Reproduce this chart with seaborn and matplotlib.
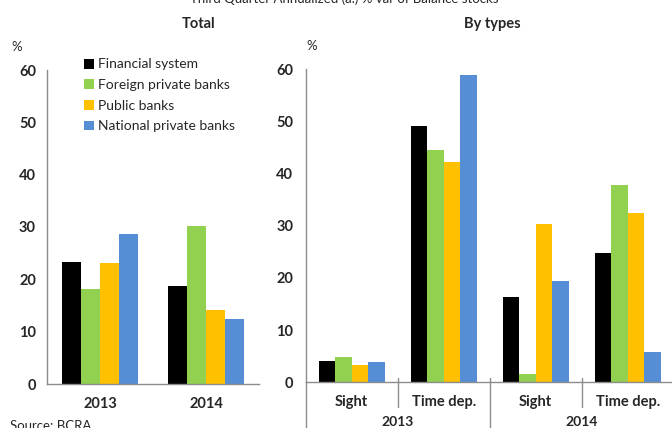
import matplotlib
matplotlib.use("Agg")
import matplotlib.pyplot as plt
import matplotlib.transforms as mtransforms
from matplotlib.patches import Patch
import seaborn as sns
import pandas as pd

# ---- data -------------------------------------------------------------
years = ["2013", "2014"]
groups = ["Financial system", "Foreign private banks", "Public banks",
          "National private banks"]
colors = ["#000000", "#92D050", "#FFC000", "#558ED5"]

# Total deposits, annualized % change (third quarter)
total_financial = [23.4, 18.7]
total_foreign = [18.2, 30.2]
total_public = [23.1, 14.1]
total_national = [28.7, 12.4]

# By deposit type
type_years = ["2013", "2013", "2014", "2014"]
type_names = ["Sight", "Time dep.", "Sight", "Time dep."]
types_financial = [4.0, 49.1, 16.3, 24.7]
types_foreign = [4.9, 44.5, 1.6, 37.8]
types_public = [3.4, 42.2, 30.3, 32.5]
types_national = [3.8, 59.0, 19.5, 5.9]

# ---- long-form tables ------------------------------------------------
total_series = [total_financial, total_foreign, total_public, total_national]
rows = []
for g, vals in zip(groups, total_series):
    for y, v in zip(years, vals):
        rows.append({"year": y, "group": g, "value": v})
df_total = pd.DataFrame(rows)

type_keys = [f"{y} {t}" for y, t in zip(type_years, type_names)]
type_series = [types_financial, types_foreign, types_public, types_national]
rows = []
for g, vals in zip(groups, type_series):
    for k, v in zip(type_keys, vals):
        rows.append({"cat": k, "group": g, "value": v})
df_types = pd.DataFrame(rows)

# ---- style ------------------------------------------------------------
sns.set_theme(style="white")
plt.rcParams["font.family"] = ["Lato", "DejaVu Sans"]
AX_GRAY = "#8c8c8c"

W, H = 672, 428
fig = plt.figure(figsize=(W / 100, H / 100), dpi=100)

ax1 = fig.add_axes([47 / W, 44 / H, 212 / W, 314 / H])
ax2 = fig.add_axes([305.7 / W, 45.7 / H, 368 / W, 313 / H])

palette = dict(zip(groups, colors))

sns.barplot(data=df_total, x="year", y="value", hue="group", order=years,
            hue_order=groups, palette=palette, width=0.72, gap=0,
            saturation=1, linewidth=0, legend=False, ax=ax1)
sns.barplot(data=df_types, x="cat", y="value", hue="group", order=type_keys,
            hue_order=groups, palette=palette, width=0.72, gap=0,
            saturation=1, linewidth=0, legend=False, ax=ax2)

for ax in (ax1, ax2):
    ax.set_ylim(0, 60)
    ax.set_yticks(range(0, 61, 10))
    ax.set_xlabel("")
    ax.set_ylabel("")
    for s in ("top", "right"):
        ax.spines[s].set_visible(False)
    for s in ("left", "bottom"):
        ax.spines[s].set_color(AX_GRAY)
        ax.spines[s].set_linewidth(1.0)
    ax.tick_params(axis="y", direction="in", length=4, width=1,
                   color=AX_GRAY, labelsize=10.5, pad=8)
    for lab in ax.get_yticklabels():
        lab.set_fontweight("bold")

# Left panel x-axis: year labels, small inward ticks at group boundaries
ax1.set_xlim(-0.5, 1.5)
ax1.set_xticks([0, 1])
ax1.set_xticklabels(years, fontsize=10.5, fontweight="bold")
ax1.tick_params(axis="x", length=0, pad=9)
ax1.set_xticks([0.5, 1.5], minor=True)
ax1.tick_params(axis="x", which="minor", direction="in", length=4,
                width=1, color=AX_GRAY)

# Right panel x-axis: deposit type, then year underneath
ax2.set_xlim(-0.5, 3.5)
ax2.set_xticks(range(4))
ax2.set_xticklabels(type_names, fontsize=10.5, fontweight="bold")
ax2.tick_params(axis="x", length=0, pad=9)
ax2.tick_params(axis="y", pad=9)
trans = mtransforms.blended_transform_factory(ax2.transData, ax2.transAxes)
px = 1 / 313
for xb, ybot in [(0.5, -25 * px), (2.5, -25 * px), (1.5, -47 * px)]:
    ax2.plot([xb, xb], [4.5 * px, ybot], color=AX_GRAY, lw=1,
             transform=trans, clip_on=False)
ax2.plot([-0.5, -0.5], [0, -47 * px], color=AX_GRAY, lw=1,
         transform=trans, clip_on=False)
for xc, yr in [(0.5, "2013"), (2.5, "2014")]:
    ax2.text(xc, -40 * px, yr, transform=trans, ha="center", va="center",
             fontsize=10, fontweight="bold")

# Legend
handles = [Patch(facecolor=c, edgecolor="none") for c in colors]
ax1.legend(handles, groups, loc="upper left",
           bbox_to_anchor=(84 / W, (H - 58.5) / H),
           bbox_transform=fig.transFigure, frameon=False, fontsize=10,
           handlelength=0.7, handleheight=0.7, handletextpad=0.3,
           labelspacing=0.62, borderpad=0, borderaxespad=0)

# Texts
fig.text(344 / W, (H - 3) / H,
         "Third Quarter Annualized (a.) % var of Balance stocks",
         ha="center", va="baseline", fontsize=9.5)
fig.text(199 / W, (H - 24) / H, "Total", ha="center", va="center",
         fontsize=10.5, fontweight="bold")
fig.text(492 / W, (H - 24) / H, "By types", ha="center", va="center",
         fontsize=10.5, fontweight="bold")
fig.text(17 / W, (H - 47) / H, "%", ha="center", va="center", fontsize=9.5)
fig.text(312 / W, (H - 46) / H, "%", ha="center", va="center", fontsize=9.5)
fig.text(10 / W, (H - 420) / H, "Source: BCRA", ha="left", va="top",
         fontsize=9.5)

fig.savefig("out.png", dpi=100)
